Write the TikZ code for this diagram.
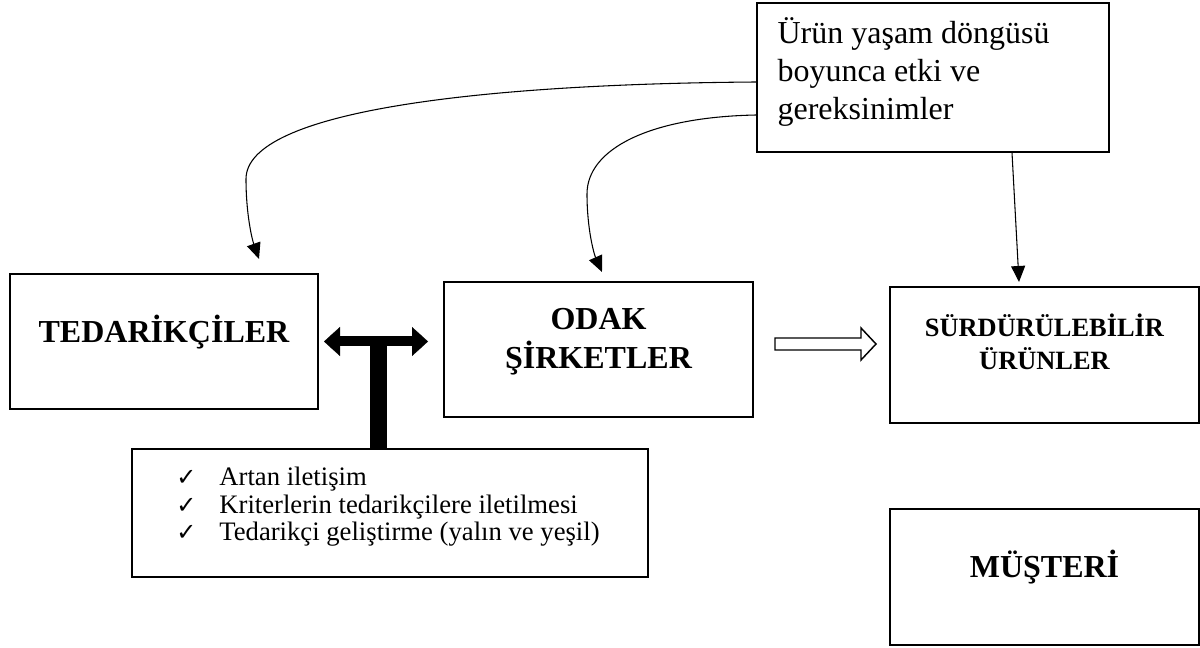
\documentclass[tikz,border=0pt]{standalone}
\usepackage{fontspec}
\setmainfont{Liberation Serif}
\newfontfamily\checkfont{DejaVu Sans}
\usepackage{tikz}
\usetikzlibrary{arrows.meta, positioning, calc}
\newcommand{\onay}{\makebox[32.25pt][l]{\checkfont\fontsize{18}{18}\selectfont ✓}}

\begin{document}
\begin{tikzpicture}[
    x=0.75pt, y=-0.75pt,
    box/.style={rectangle, draw=black, line width=1.5pt, inner sep=0pt, minimum width=231.75pt, minimum height=101.25pt},
    notebox/.style={rectangle, draw=black, line width=1pt, inner sep=0pt},
    boxtext/.style={inner sep=0pt, align=center, font=\bfseries\fontsize{24}{29.25}\selectfont},
    plaintext/.style={inner sep=0pt, align=left, font=\fontsize{24}{28.5}\selectfont},
    line/.style={draw, -{Triangle[length=12pt, width=10.5pt]}, line width=0.8pt},
    tbar/.style={draw, line width=7.5pt, {Triangle[length=12pt, width=21.75pt, line width=0.1pt]}-{Triangle[length=12pt, width=21.75pt, line width=0.1pt]}},
    stem/.style={draw, line width=12.75pt},
    hollow/.style={draw, line width=1.1pt, fill=white, line join=miter}
  ]
    \useasboundingbox (0,0) rectangle (1200,648);

    \node (prod) [notebox, minimum width=264pt, minimum height=111.75pt] at (933,77.5) {};
    \node (tedarik) [box, minimum width=231pt] at (164,341.5) {};
    \node (odak) [box, right=93pt of tedarik, yshift=-6pt] {};
    \node (urun) [box, minimum height=102pt, right=101.25pt of odak, yshift=-4.125pt] {};
    \node (musteri) [box, minimum height=102pt, below=63pt of urun] {};
    \node (kriter) [notebox, line width=1.3pt, minimum width=387pt, minimum height=96pt] at (390,513) {};

    \node (prodT) [plaintext, anchor=west] at ($(prod.west)+(21,-6)$) {Ürün yaşam döngüsü\\boyunca etki ve\\gereksinimler};
    \node (tedarikT) [boxtext] at ($(tedarik.center)+(0,-9)$) {TEDARİKÇİLER};
    \node (odakT) [boxtext] at ($(odak.center)+(0,-7.7)$) {ODAK\\ŞİRKETLER};
    \node (urunT) [boxtext, font=\bfseries\fontsize{19.8}{24.75}\selectfont] at ($(urun.center)+(0,-13)$) {SÜRDÜRÜLEBİLİR\\ÜRÜNLER};
    \node (musteriT) [boxtext] at ($(musteri.center)+(0,-9.5)$) {MÜŞTERİ};
    \node (kriterT) [plaintext, font=\fontsize{20}{20.6}\selectfont, anchor=west] at ($(kriter.west)+(45,-6)$) {\onay Artan iletişim\\\onay Kriterlerin tedarikçilere iletilmesi\\\onay Tedarikçi geliştirme (yalın ve yeşil)};

    % etki oklari
    \draw[line] ($(prod.west)+(0,4.5)$) .. controls +(-277,2) and +(0,-68) .. ($(tedarik.north)+(82,-94)$) .. controls +(0,35) and +(-7,-20) .. ($(tedarik.north)+(95,-14)$);
    \draw[line] ($(prod.west)+(0,37.5)$) .. controls +(-107,2) and +(0,-45) .. ($(odak.north)+(-11.5,-87)$) .. controls +(0,35) and +(-8,-18) .. ($(odak.north)+(3.5,-9)$);
    \draw[line] ($(prod.south)+(79,0)$) -- ($(urun.north)+(-25.5,-4)$);

    % T bar
    \draw[tbar, shorten <=3.75pt, shorten >=11.25pt] (tedarik.east) -- (tedarik.east -| odak.west);
    \coordinate (tmid) at ($(tedarik.east)+(59.5,0)$);
    \draw[stem] (tmid) -- (tmid |- kriter.north);

    % hollow arrow
    \coordinate (hollowA) at ($(odak.east)+(21,-5.5)$);
    \coordinate (hollowB) at ($(urun.west)+(-13,-11)$);
    \draw[hollow] ([yshift=4.5pt]hollowA) -- ++(86,0) -- ++(0,-10) -- (hollowB) -- ++(-15,16) -- ++(0,-10) -- ([yshift=-4.5pt]hollowA) -- cycle;
\end{tikzpicture}
\end{document}
